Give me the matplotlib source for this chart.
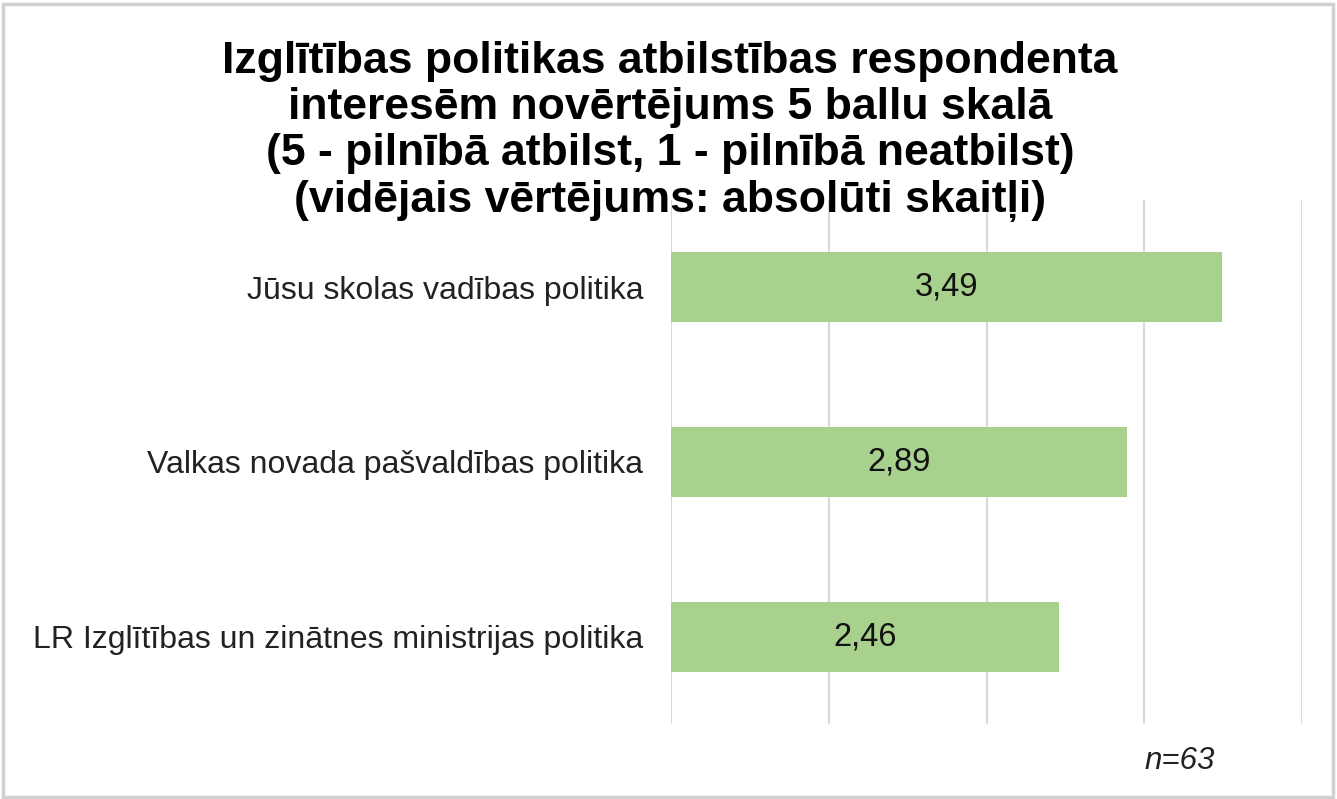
import matplotlib.pyplot as plt
from matplotlib.patches import Rectangle

plt.rcParams['font.family'] = ['Liberation Sans', 'DejaVu Sans']

# chart data
categories = ['Jūsu skolas vadības politika',
              'Valkas novada pašvaldības politika',
              'LR Izglītības un zinātnes ministrijas politika']
values = [3.49, 2.89, 2.46]
value_labels = ['3,49', '2,89', '2,46']
title = ('Izglītības politikas atbilstības respondenta\n'
         'interesēm novērtējums 5 ballu skalā\n'
         '(5 - pilnībā atbilst, 1 - pilnībā neatbilst)\n'
         '(vidējais vērtējums: absolūti skaitļi)')
note = 'n=63'

fig = plt.figure(figsize=(13.37, 7.99), dpi=100)
ax = fig.add_axes([0.5019, 0.0939, 0.4719, 0.6558])

ypos = list(range(len(categories)))
ax.barh(ypos, values, height=0.4, color='#A9D18E', zorder=2)
ax.set_xlim(0, 4)
ax.set_ylim(len(categories) - 0.5, -0.5)
ax.set_xticks([0, 1, 2, 3, 4])
ax.set_xticklabels([])
ax.tick_params(length=0)
ax.set_yticks(ypos)
ax.set_yticklabels(categories, fontsize=23, color='#222222')
ax.tick_params(axis='y', pad=20)
ax.grid(axis='x', color='#d9d9d9', linewidth=1.5, zorder=0)
for s in ax.spines.values():
    s.set_visible(False)

for y, v, lab in zip(ypos, values, value_labels):
    ax.text(v / 2, y, lab, ha='center', va='center', fontsize=23.5, color='#111111')

fig.text(0.501, 0.8355, title, ha='center', va='center', fontsize=32,
         fontweight='bold', linespacing=1.16)
fig.text(0.8826, 0.048, note, ha='center', va='center', fontsize=22.5,
         style='italic', color='#222222')

fig.patches.append(Rectangle((0.002, 0.003), 0.995, 0.992, transform=fig.transFigure,
                             fill=False, edgecolor='#d0d0d0', linewidth=2.5))

fig.savefig('out.png', dpi=100)
